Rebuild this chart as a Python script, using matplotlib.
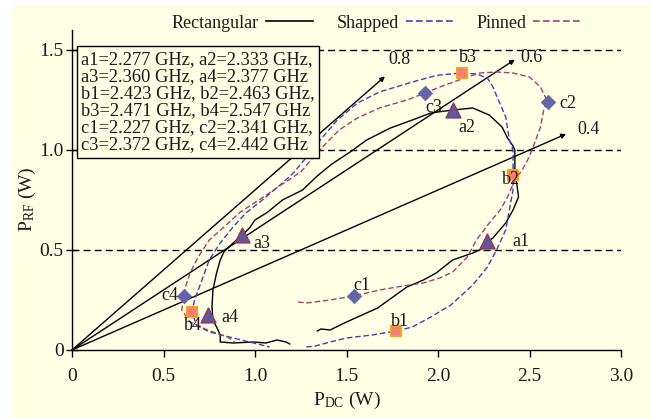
"""Output power vs DC power for three transistor geometries, with efficiency lines."""

import matplotlib

matplotlib.use("Agg")
import matplotlib.pyplot as plt
from matplotlib.lines import Line2D
from matplotlib.patches import Rectangle

plt.rcParams["font.family"] = ["Liberation Serif", "DejaVu Serif"]
plt.rcParams["mathtext.fontset"] = "custom"
plt.rcParams["mathtext.rm"] = "Liberation Serif"

# Rectangular: frequency sweep a1 -> a4
rect_x = [1.34, 1.36, 1.41, 1.50, 1.67, 1.83, 1.92, 1.99, 2.08, 2.19, 2.25, 2.27,
          2.30, 2.37, 2.41, 2.44, 2.43, 2.42, 2.42, 2.41, 2.38, 2.35, 2.28, 2.19,
          2.08, 1.96, 1.86, 1.74, 1.61, 1.52, 1.42, 1.34, 1.26, 1.15, 1.07, 1.00,
          0.97, 0.93, 0.88, 0.83, 0.81, 0.79, 0.77, 0.765, 0.77, 0.79, 0.81, 0.81,
          0.88, 0.99, 1.06, 1.12, 1.17, 1.19]
rect_y = [0.095, 0.105, 0.10, 0.14, 0.21, 0.315, 0.35, 0.385, 0.45, 0.485, 0.51, 0.54,
          0.56, 0.635, 0.70, 0.765, 0.835, 0.865, 1.00, 1.02, 1.06, 1.115, 1.175, 1.21,
          1.20, 1.185, 1.15, 1.11, 1.05, 0.99, 0.93, 0.87, 0.80, 0.75, 0.69, 0.65,
          0.61, 0.575, 0.535, 0.49, 0.45, 0.385, 0.30, 0.215, 0.15, 0.115, 0.075, 0.04,
          0.035, 0.04, 0.035, 0.05, 0.04, 0.03]

# Shapped: b1 -> b4
shaped_x = [1.28, 1.33, 1.41, 1.50, 1.64, 1.77, 1.86, 1.96, 2.07, 2.19, 2.27, 2.32,
            2.37, 2.39, 2.41, 2.41, 2.41, 2.39, 2.37, 2.33, 2.30, 2.27, 2.21, 2.13,
            2.01, 1.96, 1.86, 1.68, 1.56, 1.45, 1.37, 1.30, 1.21, 1.15, 1.04, 0.95,
            0.88, 0.81, 0.75, 0.71, 0.67, 0.655, 0.68, 0.75, 0.86, 0.97, 1.08]
shaped_y = [0.015, 0.02, 0.04, 0.06, 0.075, 0.095, 0.115, 0.165, 0.225, 0.325, 0.415, 0.50,
            0.60, 0.70, 0.80, 0.875, 1.00, 1.05, 1.165, 1.25, 1.315, 1.36, 1.38, 1.385,
            1.375, 1.365, 1.34, 1.29, 1.235, 1.15, 1.065, 0.985, 0.885, 0.835, 0.75, 0.685,
            0.615, 0.535, 0.45, 0.35, 0.25, 0.19, 0.125, 0.09, 0.065, 0.04, 0.015]

# Pinned: c1 -> c4
pinned_x = [1.235, 1.28, 1.41, 1.54, 1.68, 1.81, 1.92, 2.01, 2.08, 2.16, 2.21, 2.28,
            2.34, 2.38, 2.42, 2.46, 2.49, 2.52, 2.56, 2.58, 2.60, 2.56, 2.50, 2.41,
            2.32, 2.23, 2.16, 2.07, 2.01, 1.93, 1.83, 1.68, 1.56, 1.46, 1.39, 1.32,
            1.25, 1.15, 1.03, 0.92, 0.83, 0.75, 0.69, 0.645, 0.62, 0.61, 0.60, 0.645,
            0.74, 0.85, 0.89]
pinned_y = [0.24, 0.235, 0.25, 0.27, 0.30, 0.32, 0.335, 0.36, 0.39, 0.465, 0.55, 0.635,
            0.70, 0.765, 0.85, 0.90, 0.95, 1.015, 1.115, 1.21, 1.24, 1.315, 1.365, 1.385,
            1.39, 1.385, 1.365, 1.335, 1.315, 1.285, 1.25, 1.21, 1.16, 1.10, 1.035, 0.965,
            0.89, 0.83, 0.755, 0.69, 0.615, 0.55, 0.465, 0.385, 0.315, 0.27, 0.20, 0.14,
            0.10, 0.065, 0.04]

# marked frequency points
a_names = ["a1", "a2", "a3", "a4"]
a_x = [2.27, 2.08, 0.93, 0.745]
a_y = [0.545, 1.20, 0.575, 0.175]
b_names = ["b1", "b2", "b3", "b4"]
b_x = [1.77, 2.41, 2.13, 0.655]
b_y = [0.095, 0.875, 1.385, 0.19]
c_names = ["c1", "c2", "c3", "c4"]
c_x = [1.54, 2.60, 1.93, 0.61]
c_y = [0.27, 1.24, 1.285, 0.27]

# efficiency lines P_RF = eta * P_DC
eff_values = [0.8, 0.6, 0.4]
eff_end_x = [1.71, 2.42, 2.70]

freq_note = ("a1=2.277 GHz, a2=2.333 GHz,\n"
             "a3=2.360 GHz, a4=2.377 GHz\n"
             "b1=2.423 GHz, b2=2.463 GHz,\n"
             "b3=2.471 GHz, b4=2.547 GHz\n"
             "c1=2.227 GHz, c2=2.341 GHz,\n"
             "c3=2.372 GHz, c4=2.442 GHz")

BG = "#ffffe6"
TXT = "#1a1a1a"
BLUE = "#3f3fb8"
MAROON = "#a5406e"

fig = plt.figure(figsize=(6.51, 4.18), dpi=100, facecolor="white")
fig.patches.append(Rectangle((11 / 651, 0), 1, 413 / 418, transform=fig.transFigure,
                             facecolor=BG, edgecolor="none", zorder=-10))
ax = fig.add_axes([72 / 651, 68 / 418, 549 / 651, 320 / 418])
ax.set_facecolor("none")

ax.plot(rect_x, rect_y, color="black", lw=1.0, zorder=3)
ax.plot(shaped_x, shaped_y, color=BLUE, lw=1.0, ls=(0, (4, 2)), zorder=3)
ax.plot(pinned_x, pinned_y, color=MAROON, lw=1.0, ls=(0, (4, 2)), zorder=3)

for level in [0.5, 1.0, 1.5]:
    ax.plot([0, 3.0], [level, level], color="black", lw=1.0, ls=(0, (5, 3)), zorder=1)

label_pos = [(1.79, 1.45), (2.51, 1.46), (2.82, 1.10)]
for eta, xe, (lx, ly) in zip(eff_values, eff_end_x, label_pos):
    ax.annotate("", xy=(xe, eta * xe), xytext=(0, 0),
                arrowprops=dict(arrowstyle="-|>", lw=1.0, color="black",
                                mutation_scale=7, shrinkA=0, shrinkB=0), zorder=2)
    ax.text(lx, ly, f"{eta:.1f}", fontsize=13, color=TXT, ha="center", va="center")

ax.scatter(a_x, a_y, marker="^", s=110, c="#5c5a9c", edgecolors="#8e3a66",
           linewidths=1.2, zorder=5)
ax.scatter(b_x, b_y, marker="s", s=50, c="#f27f7f", edgecolors="#ff9c1a",
           linewidths=1.5, zorder=5)
ax.scatter(c_x, c_y, marker="D", s=55, c="#6464a8", edgecolors="#6464a8",
           linewidths=0.5, zorder=5)

point_labels = {
    "a1": (2.405, 0.54, "left"), "a2": (2.16, 1.11, "center"),
    "a3": (1.04, 0.535, "center"), "a4": (0.86, 0.165, "center"),
    "b1": (1.79, 0.14, "center"), "b2": (2.40, 0.855, "center"),
    "b3": (2.165, 1.46, "center"), "b4": (0.66, 0.125, "center"),
    "c1": (1.585, 0.325, "center"), "c2": (2.71, 1.235, "center"),
    "c3": (1.975, 1.21, "center"), "c4": (0.535, 0.27, "center"),
}
for name, (lx, ly, ha) in point_labels.items():
    ax.text(lx, ly, name, fontsize=13, color=TXT, ha=ha, va="center", zorder=6)

ax.text(0.05, 1.495, freq_note, fontsize=13.3, color=TXT, ha="left", va="top",
        linespacing=1.0, zorder=7,
        bbox=dict(boxstyle="square,pad=0.25", facecolor=BG, edgecolor="black", lw=1.0))

ax.set_xlim(0, 3.0)
ax.set_ylim(0, 1.6)
ax.set_xticks([0, 0.5, 1.0, 1.5, 2.0, 2.5, 3.0])
ax.set_xticklabels(["0", "0.5", "1.0", "1.5", "2.0", "2.5", "3.0"])
ax.set_yticks([0, 0.5, 1.0, 1.5])
ax.set_yticklabels(["0", "0.5", "1.0", "1.5"])
ax.tick_params(axis="x", direction="out", length=5, width=1, labelsize=14,
               colors="black", labelcolor=TXT, pad=8)
ax.tick_params(axis="y", direction="inout", length=8, width=1, labelsize=14,
               colors="black", labelcolor=TXT, pad=2)
for side in ["top", "right"]:
    ax.spines[side].set_visible(False)
for side in ["left", "bottom"]:
    ax.spines[side].set_linewidth(1.0)
    ax.spines[side].set_color("black")

ax.set_xlabel(r"$\mathregular{P_{DC}}$ (W)", fontsize=14, color=TXT)
ax.set_ylabel(r"$\mathregular{P_{RF}}$ (W)", fontsize=14, color=TXT)
ax.xaxis.set_label_coords(0.5, -0.125)
ax.yaxis.set_label_coords(-0.062, 0.47)

handles = [
    Line2D([], [], color="black", lw=1.2),
    Line2D([], [], color=BLUE, lw=1.2, ls=(0, (4, 2))),
    Line2D([], [], color=MAROON, lw=1.2, ls=(0, (4, 2))),
]
fig.legend(handles, ["Rectangular", "Shapped", "Pinned"], loc="center",
           bbox_to_anchor=(376 / 651, 1 - 23 / 418), ncol=3, frameon=False,
           markerfirst=False, fontsize=13, handlelength=2.6, handletextpad=0.4,
           columnspacing=1.3, labelcolor=TXT)

fig.savefig("out.png", dpi=100, facecolor=fig.get_facecolor())
